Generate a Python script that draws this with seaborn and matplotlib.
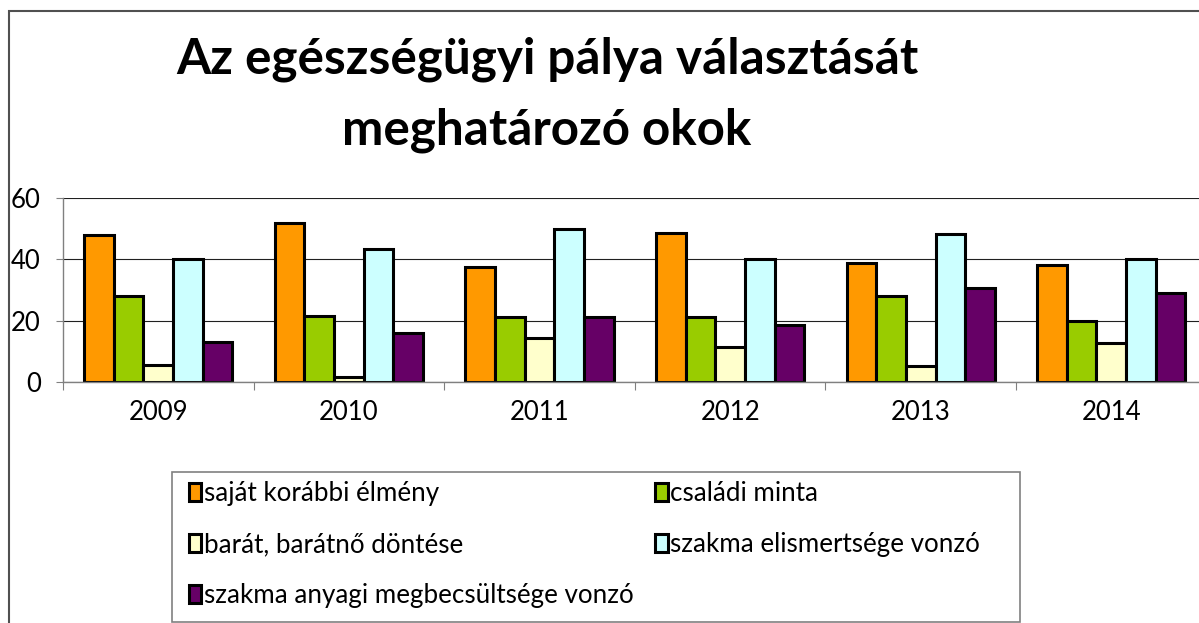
import numpy as np
import pandas as pd
import seaborn as sns
import matplotlib
matplotlib.use("Agg")
import matplotlib.pyplot as plt
from matplotlib.patches import Rectangle

years = ["2009", "2010", "2011", "2012", "2013", "2014"]
reasons = [
    "saját korábbi élmény",
    "családi minta",
    "barát, barátnő döntése",
    "szakma elismertsége vonzó",
    "szakma anyagi megbecsültsége vonzó",
]
sajat = [47.8, 52.0, 37.5, 48.6, 38.7, 38.2]
csaladi = [28.2, 21.6, 21.3, 21.3, 28.0, 20.0]
barat = [5.5, 1.6, 14.3, 11.5, 5.3, 12.7]
elismertseg = [40.1, 43.3, 50.0, 40.0, 48.1, 40.0]
anyagi = [13.0, 16.0, 21.3, 18.6, 30.7, 29.0]
colors = ["#FF9900", "#99CC00", "#FFFFCC", "#CCFFFF", "#660066"]
yticks = [0, 20, 40, 60]
title_lines = ["Az egészségügyi pálya választását", "meghatározó okok"]

series = [sajat, csaladi, barat, elismertseg, anyagi]
rows = []
for r, vals in zip(reasons, series):
    for y, v in zip(years, vals):
        rows.append({"year": y, "reason": r, "value": v})
df = pd.DataFrame(rows)

sns.set_theme(style="white")
plt.rcParams["font.family"] = ["Lato", "DejaVu Sans"]

W, H = 1199, 623
fig = plt.figure(figsize=(W / 100, H / 100), dpi=100)
fig.patch.set_facecolor("white")

def fx(px):
    return px / W

def fy(py):
    return 1 - py / H

ax_left, ax_right, ax_top, ax_bot = 63, 63 + 6 * 190.6, 198, 382
ax = fig.add_axes([fx(ax_left), fy(ax_bot), (ax_right - ax_left) / W, (ax_bot - ax_top) / H])
ax.set_facecolor("white")

sns.barplot(data=df, x="year", y="value", hue="reason", hue_order=reasons,
            order=years, palette=colors, width=0.777, saturation=1,
            edgecolor="black", linewidth=2.2, ax=ax, gap=0, errorbar=None)

ax.set_ylim(0, 60)
ax.set_xlim(-0.5, len(years) - 0.5)
ax.set_yticks(yticks)
ax.set_yticklabels([str(t) for t in yticks])
ax.set_axisbelow(True)
ax.yaxis.grid(True, color="#202020", linewidth=0.8)
ax.xaxis.grid(False)
ax.set_xlabel("")
ax.set_ylabel("")
for s in ["top", "right"]:
    ax.spines[s].set_visible(False)
for s in ["left", "bottom"]:
    ax.spines[s].set_color("#808080")
    ax.spines[s].set_linewidth(1.0)
ax.tick_params(axis="y", which="major", length=5, width=0.8, color="#808080",
               direction="out", labelsize=18.5, pad=11, left=True, labelcolor="black")
ax.tick_params(axis="x", which="major", length=0, labelsize=18.5, pad=13, labelcolor="black")
ax.set_xticks(np.arange(-0.5, len(years), 1.0), minor=True)
ax.tick_params(axis="x", which="minor", length=6, width=0.8, color="#808080",
               direction="out", bottom=True)

handles, labels = ax.get_legend_handles_labels()
ax.get_legend().remove()

renderer = fig.canvas.get_renderer()

def fit_size(text, target_w, weight="normal", base=20):
    t = fig.text(0, 0, text, fontsize=base, fontweight=weight)
    w = t.get_window_extent(renderer).width
    t.remove()
    return base * target_w / w

# Title
tsize = fit_size(title_lines[0], 740, weight="bold", base=30)
fig.text(fx(547), fy(73), title_lines[0], ha="center", va="baseline",
         fontsize=tsize, fontweight="bold", color="black")
fig.text(fx(547), fy(145), title_lines[1], ha="center", va="baseline",
         fontsize=tsize, fontweight="bold", color="black")

# Legend
lsize = fit_size(reasons[4], 430, base=16)
order = [0, 2, 4, 1, 3]
leg = fig.legend([handles[i] for i in order], [labels[i] for i in order],
                 ncol=2, loc="upper left", bbox_to_anchor=(fx(189), fy(481)),
                 bbox_transform=fig.transFigure, frameon=False, fontsize=lsize,
                 borderpad=0, borderaxespad=0, handlelength=0.48, handleheight=0.68,
                 handletextpad=0.08, labelspacing=1.0, columnspacing=0.85)
for t in leg.get_texts():
    t.set_color("black")

fig.add_artist(Rectangle((fx(172), fy(622)), (1020 - 172) / W, (622 - 472) / H,
                         transform=fig.transFigure, fill=False,
                         edgecolor="#808080", linewidth=1.2))
# Outer chart border (left and top visible)
fig.add_artist(Rectangle((fx(9), -0.2), 1.2, fy(11) + 0.2,
                         transform=fig.transFigure, fill=False,
                         edgecolor="#505050", linewidth=1.5))

fig.savefig("out.png", dpi=100, facecolor="white")
